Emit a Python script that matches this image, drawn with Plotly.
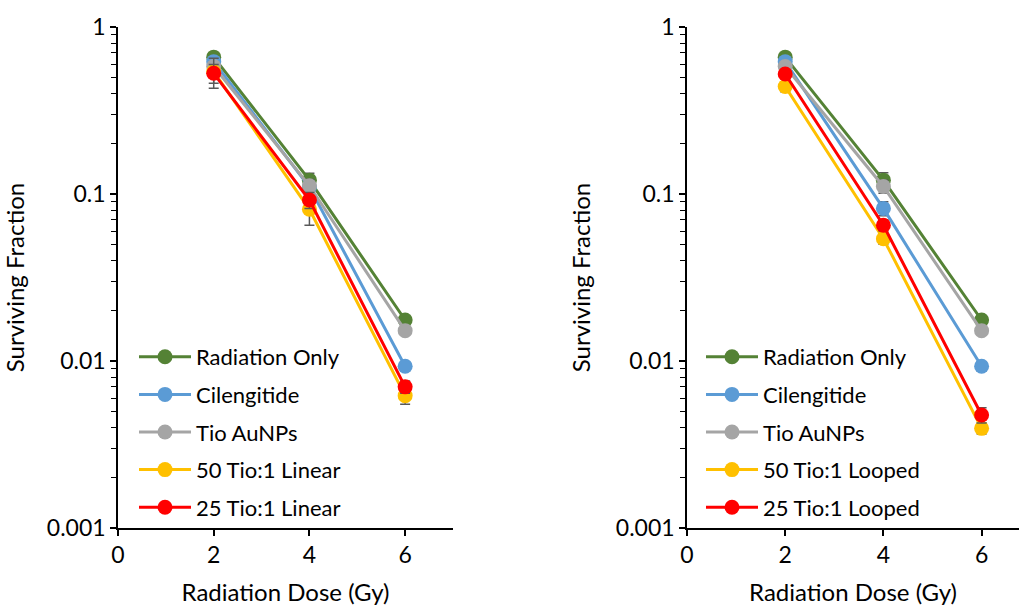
import plotly.graph_objects as go

dose = [2, 4, 6]

series_names_left = ["Radiation Only", "Cilengitide", "Tio AuNPs", "50 Tio:1 Linear", "25 Tio:1 Linear"]
series_names_right = ["Radiation Only", "Cilengitide", "Tio AuNPs", "50 Tio:1 Looped", "25 Tio:1 Looped"]
colors = ["#548235", "#5B9BD5", "#A5A5A5", "#FFC000", "#FF0000"]

# Left panel (Linear)
rad_only = [0.66, 0.121, 0.0176]
rad_only_err = [0.03, 0.012, 0.0010]
cil = [0.62, 0.110, 0.0093]
cil_err = [0.03, 0.010, 0.0006]
tio = [0.58, 0.112, 0.0152]
tio_err = [0.03, 0.010, 0.0008]
lin50 = [0.54, 0.081, 0.0062]
lin50_err = [0.11, 0.016, 0.0007]
lin25 = [0.528, 0.092, 0.0070]
lin25_err = [0.068, 0.010, 0.0006]

# Right panel (Looped)
rad_only_r = [0.66, 0.121, 0.0176]
rad_only_r_err = [0.03, 0.013, 0.0010]
cil_r = [0.62, 0.082, 0.0093]
cil_r_err = [0.03, 0.008, 0.0006]
tio_r = [0.58, 0.111, 0.0152]
tio_r_err = [0.03, 0.010, 0.0008]
loop50 = [0.44, 0.054, 0.00395]
loop50_err = [0.03, 0.004, 0.0003]
loop25 = [0.523, 0.065, 0.00475]
loop25_err = [0.03, 0.005, 0.0005]

left_vals = [rad_only, cil, tio, lin50, lin25]
left_errs = [rad_only_err, cil_err, tio_err, lin50_err, lin25_err]
right_vals = [rad_only_r, cil_r, tio_r, loop50, loop25]
right_errs = [rad_only_r_err, cil_r_err, tio_r_err, loop50_err, loop25_err]

y_tick_vals = [0.001, 0.01, 0.1, 1]
y_tick_text = ["0.001", "0.01", "0.1", "1"]
x_tick_vals = [0, 2, 4, 6]

FONT = "Lato"
fig = go.Figure()

for i, (name, vals, errs) in enumerate(zip(series_names_left, left_vals, left_errs)):
    fig.add_trace(go.Scatter(
        x=dose, y=vals, name=name, mode="lines+markers",
        line=dict(color=colors[i], width=3),
        marker=dict(color=colors[i], size=15),
        error_y=dict(type="data", array=errs, arrayminus=errs, color="#595959", thickness=1.5, width=5),
        xaxis="x", yaxis="y", legend="legend", legendgroup="L%d" % i,
    ))

for i, (name, vals, errs) in enumerate(zip(series_names_right, right_vals, right_errs)):
    fig.add_trace(go.Scatter(
        x=dose, y=vals, name=name, mode="lines+markers",
        line=dict(color=colors[i], width=3),
        marker=dict(color=colors[i], size=15),
        error_y=dict(type="data", array=errs, arrayminus=errs, color="#595959", thickness=1.5, width=5),
        xaxis="x2", yaxis="y2", legend="legend2", legendgroup="R%d" % i,
    ))

W, H = 1019, 606
top, bottom = 27, 528
tickfont = dict(family=FONT, size=23, color="black")
titlefont = dict(family=FONT, size=24, color="black")
legendfont = dict(family=FONT, size=22, color="black")
minor_vals = [m * 10 ** e for e in (-3, -2, -1) for m in range(2, 10)]

def xax(domain, rng, anchor):
    return dict(domain=domain, range=rng, anchor=anchor, tickvals=x_tick_vals, showline=True, linecolor="black",
                linewidth=1.5, ticks="outside", ticklen=6, tickwidth=1.5, tickcolor="black",
                showgrid=False, zeroline=False, tickfont=tickfont, automargin=False,
                title=dict(text="Radiation Dose (Gy)", font=titlefont, standoff=18))

def yax(anchor):
    return dict(type="log", range=[-3, 0], anchor=anchor, tickvals=y_tick_vals,
                ticktext=y_tick_text, showline=True, linecolor="black",
                linewidth=1.5, ticks="outside", ticklen=6, tickwidth=1.5, tickcolor="black",
                minor=dict(tickvals=minor_vals, ticks="outside", ticklen=5, tickwidth=1.2,
                           tickcolor="black", showgrid=False),
                showgrid=False, zeroline=False, tickfont=tickfont, automargin=False,
                title=dict(text="Surviving Fraction", font=titlefont, standoff=18))

def py(p):
    return (bottom - p) / (bottom - top)

fig.update_layout(
    width=W, height=H,
    margin=dict(l=0, r=0, t=top, b=H - bottom),
    paper_bgcolor="white", plot_bgcolor="white",
    xaxis=xax([118 / W, 453 / W], [0, 7], "y"),
    yaxis=yax("x"),
    xaxis2=xax([687 / W, 1.0], [0, (1019 - 687) / 49.1], "y2"),
    yaxis2=yax("x2"),
    legend=dict(x=134 / W, y=py(336), xanchor="left", yanchor="top",
                font=legendfont, itemwidth=52, tracegroupgap=6,
                bgcolor="rgba(0,0,0,0)"),
    legend2=dict(x=701 / W, y=py(336), xanchor="left", yanchor="top",
                 font=legendfont, itemwidth=52, tracegroupgap=6,
                 bgcolor="rgba(0,0,0,0)"),
    showlegend=True,
)

fig.write_html("out.html")
